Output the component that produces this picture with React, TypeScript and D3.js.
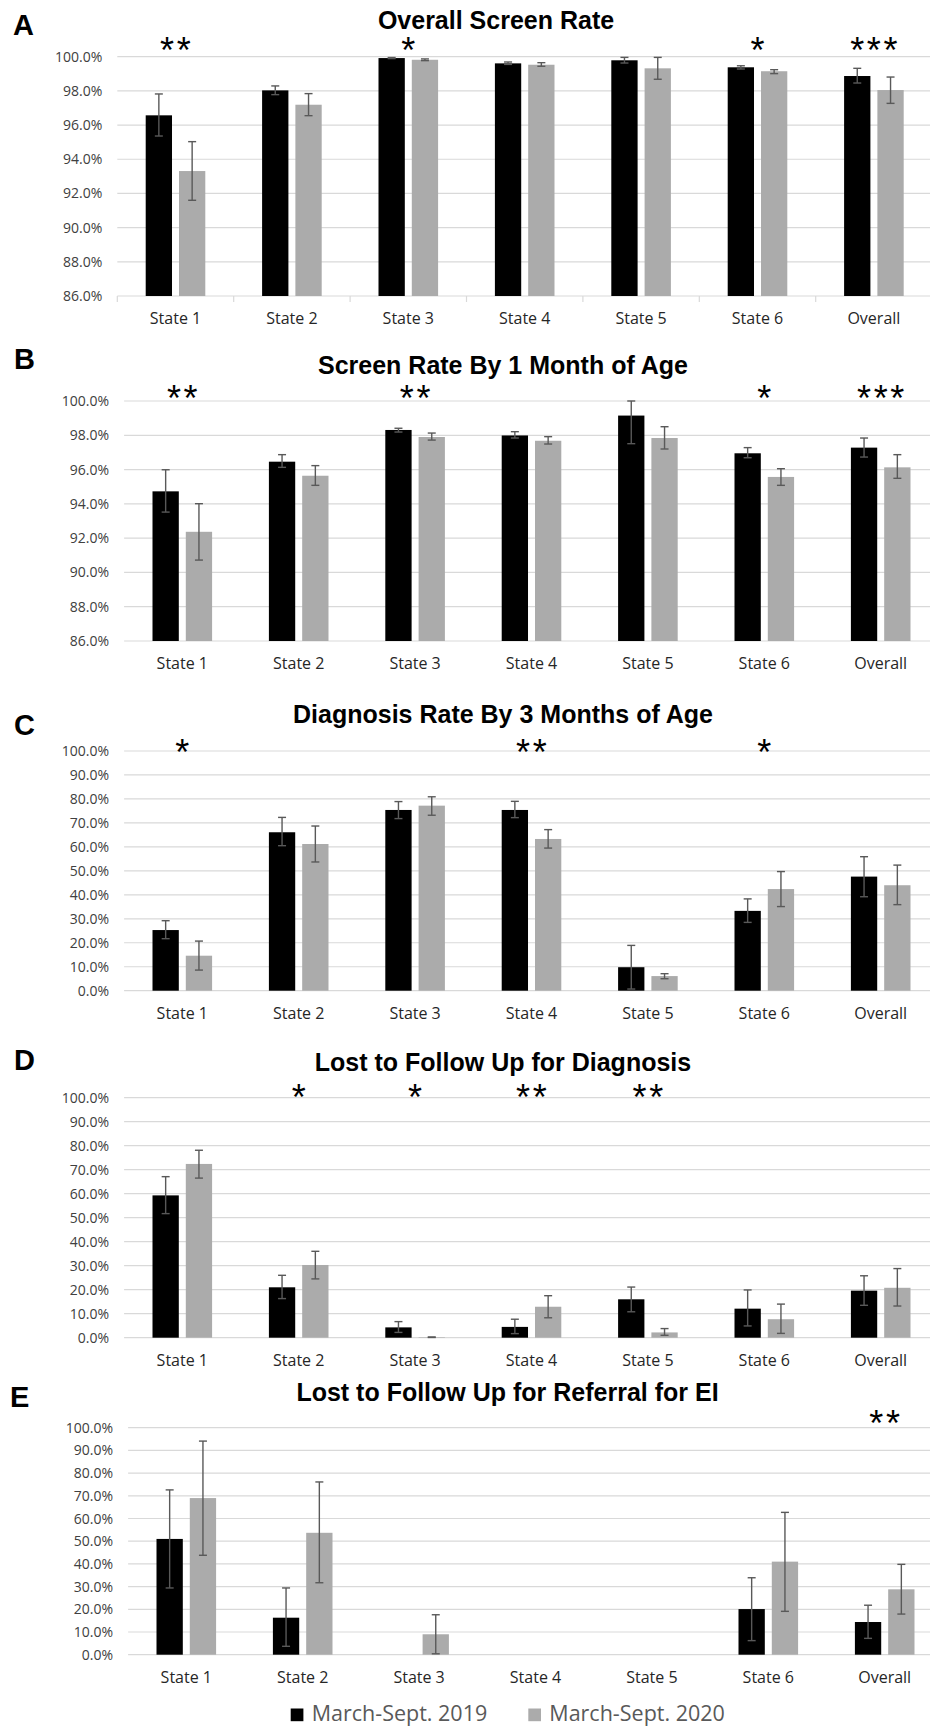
import React, { useEffect, useRef } from 'react';
import * as d3 from 'd3';

// categories and series
const categories = ['State 1', 'State 2', 'State 3', 'State 4', 'State 5', 'State 6', 'Overall'];
const seriesNames = ['March-Sept. 2019', 'March-Sept. 2020'];

// A: overall screen rate (%)
const screen2019 = [96.57, 98.03, 99.92, 99.61, 99.79, 99.38, 98.87];
const screen2019Err = [[95.36, 97.82], [97.78, 98.29], [99.89, 99.95], [99.55, 99.69], [99.63, 99.96], [99.28, 99.47], [98.46, 99.32]];
const screen2020 = [93.31, 97.19, 99.82, 99.53, 99.32, 99.15, 98.05];
const screen2020Err = [[91.6, 95.03], [96.55, 97.84], [99.77, 99.87], [99.44, 99.65], [98.68, 99.96], [99.01, 99.24], [97.27, 98.81]];
const screenStars = ['**', '', '*', '', '', '*', '***'];

// B: screen rate by 1 month of age (%)
const month1_2019 = [94.73, 96.46, 98.31, 97.99, 99.15, 96.95, 97.28];
const month1_2019Err = [[93.52, 95.99], [96.13, 96.87], [98.19, 98.41], [97.84, 98.21], [97.51, 100.0], [96.69, 97.28], [96.73, 97.84]];
const month1_2020 = [92.37, 95.64, 97.9, 97.68, 97.84, 95.57, 96.13];
const month1_2020Err = [[90.72, 94.01], [95.08, 96.23], [97.72, 98.13], [97.49, 97.92], [97.2, 98.5], [95.08, 96.05], [95.49, 96.87]];
const month1Stars = ['**', '', '**', '', '', '*', '***'];

// C: diagnosis rate by 3 months of age (%)
const diag2019 = [25.3, 66.1, 75.4, 75.4, 9.8, 33.3, 47.6];
const diag2019Err = [[21.7, 29.2], [60.5, 72.3], [71.8, 78.9], [72.2, 79.0], [0.7, 18.9], [28.5, 38.3], [39.2, 55.9]];
const diag2020 = [14.6, 61.2, 77.2, 63.3, 6.1, 42.4, 44.0];
const diag2020Err = [[8.6, 20.7], [53.7, 68.7], [73.2, 80.9], [59.5, 67.2], [5.0, 7.1], [35.1, 49.7], [35.9, 52.4]];
const diagStars = ['*', '', '', '**', '', '*', ''];

// D: lost to follow up for diagnosis (%)
const ltfDiag2019 = [59.3, 21.0, 4.3, 4.5, 16.0, 12.1, 19.6];
const ltfDiag2019Err = [[51.7, 67.1], [16.3, 26.0], [2.2, 6.7], [1.7, 7.7], [10.8, 21.1], [4.9, 19.9], [13.5, 25.8]];
const ltfDiag2020 = [72.4, 30.3, 0.2, 12.9, 2.2, 7.7, 20.8];
const ltfDiag2020Err = [[66.5, 78.1], [24.5, 36.0], [0.1, 0.3], [8.3, 17.5], [1.0, 3.8], [1.8, 14.0], [13.2, 28.8]];
const ltfDiagStars = ['', '*', '*', '**', '**', '', ''];

// E: lost to follow up for referral for EI (%)
const ltfEi2019 = [51.0, 16.3, null, null, null, 20.1, 14.4];
const ltfEi2019Err = [[29.4, 72.6], [3.7, 29.4], null, null, null, [6.2, 33.9], [7.2, 21.8]];
const ltfEi2020 = [69.0, 53.7, 9.0, null, null, 41.0, 28.8];
const ltfEi2020Err = [[43.8, 94.1], [31.7, 76.1], [0.4, 17.6], null, null, [19.1, 62.7], [17.9, 39.8]];
const ltfEiStars = ['', '', '', '', '', '', '**'];

const highTicks = [86, 88, 90, 92, 94, 96, 98, 100];
const fullTicks = [0, 10, 20, 30, 40, 50, 60, 70, 80, 90, 100];

const panels = [
  { letter: 'A', title: 'Overall Screen Rate', ticks: highTicks, a: screen2019, aErr: screen2019Err, b: screen2020, bErr: screen2020Err, stars: screenStars,
    top: 56.7, bottom: 296, left: 117.3, titleY: 29.3, titleX: 496, letterY: 35, letterX: 13, starY: 42, tickMarks: true },
  { letter: 'B', title: 'Screen Rate By 1 Month of Age', ticks: highTicks, a: month1_2019, aErr: month1_2019Err, b: month1_2020, bErr: month1_2020Err, stars: month1Stars,
    top: 401, bottom: 641, left: 124.1, titleY: 374.3, titleX: 503, letterY: 369, letterX: 14, starY: 390, tickMarks: false },
  { letter: 'C', title: 'Diagnosis Rate By 3 Months of Age', ticks: fullTicks, a: diag2019, aErr: diag2019Err, b: diag2020, bErr: diag2020Err, stars: diagStars,
    top: 751, bottom: 990.7, left: 124.1, titleY: 723.3, titleX: 503, letterY: 734.5, letterX: 14, starY: 744, tickMarks: false },
  { letter: 'D', title: 'Lost to Follow Up for Diagnosis', ticks: fullTicks, a: ltfDiag2019, aErr: ltfDiag2019Err, b: ltfDiag2020, bErr: ltfDiag2020Err, stars: ltfDiagStars,
    top: 1097.7, bottom: 1337.7, left: 124.1, titleY: 1071, titleX: 503, letterY: 1070, letterX: 14, starY: 1089, tickMarks: false },
  { letter: 'E', title: 'Lost to Follow Up for Referral for EI', ticks: fullTicks, a: ltfEi2019, aErr: ltfEi2019Err, b: ltfEi2020, bErr: ltfEi2020Err, stars: ltfEiStars,
    top: 1427.7, bottom: 1654.7, left: 128.1, titleY: 1400.7, titleX: 507.5, letterY: 1406.7, letterX: 10, starY: 1415, tickMarks: false },
];

const BAND = 116.4;
const SANS = "'Open Sans', 'Noto Sans', sans-serif";
const BOLD = "'Liberation Sans', Arial, sans-serif";
const colors = ['#000000', '#ababab'];

export default function App() {
  const ref = useRef(null);

  useEffect(() => {
    draw();
  }, []);

  function draw() {
    const svg = d3.select(ref.current);
    svg.selectAll('*').remove();

    panels.forEach((p) => {
      const g = svg.append('g');
      const right = p.left + BAND * categories.length;
      const x = d3.scaleBand().domain(categories).range([p.left, right]).padding(0);
      const y = d3.scaleLinear().domain([p.ticks[0], p.ticks[p.ticks.length - 1]]).range([p.bottom, p.top]);
      const bw = x.bandwidth();
      const barW = bw * 0.226;
      const gap = bw * 0.06;

      // gridlines
      g.selectAll('.grid')
        .data(p.ticks)
        .enter()
        .append('line')
        .attr('x1', p.left)
        .attr('x2', right)
        .attr('y1', (d) => y(d))
        .attr('y2', (d) => y(d))
        .attr('stroke', '#d9d9d9')
        .attr('stroke-width', 1.2);

      // y tick labels
      g.selectAll('.ylab')
        .data(p.ticks)
        .enter()
        .append('text')
        .attr('x', p.left - 15)
        .attr('y', (d) => y(d) + 5)
        .attr('text-anchor', 'end')
        .attr('font-family', SANS)
        .attr('font-size', 14)
        .attr('fill', '#404040')
        .text((d) => d3.format('.1f')(d) + '%');

      if (p.tickMarks) {
        const edges = d3.range(categories.length + 1).map((i) => p.left + i * bw);
        g.selectAll('.tick')
          .data(edges)
          .enter()
          .append('line')
          .attr('x1', (d) => d)
          .attr('x2', (d) => d)
          .attr('y1', p.bottom)
          .attr('y2', p.bottom + 6)
          .attr('stroke', '#d9d9d9')
          .attr('stroke-width', 1.2);
      }

      // category labels
      g.selectAll('.xlab')
        .data(categories)
        .enter()
        .append('text')
        .attr('x', (d) => x(d) + bw / 2)
        .attr('y', p.bottom + 28)
        .attr('text-anchor', 'middle')
        .attr('font-family', SANS)
        .attr('font-size', 16)
        .attr('fill', '#262626')
        .text((d) => d);

      // bars + error bars
      [p.a, p.b].forEach((vals, si) => {
        const errs = si === 0 ? p.aErr : p.bErr;
        const xb = (c) => x(c) + bw / 2 + (si === 0 ? -gap / 2 - barW : gap / 2);
        const items = categories.map((c, i) => ({ c, v: vals[i], e: errs[i] })).filter((d) => d.v !== null);
        g.selectAll('.bar' + si)
          .data(items)
          .enter()
          .append('rect')
          .attr('x', (d) => xb(d.c))
          .attr('y', (d) => y(d.v))
          .attr('width', barW)
          .attr('height', (d) => p.bottom - y(d.v))
          .attr('fill', colors[si]);
        const eg = g.selectAll('.err' + si)
          .data(items.filter((d) => d.e))
          .enter()
          .append('g')
          .attr('stroke', '#595959')
          .attr('stroke-width', 1.4);
        eg.append('line')
          .attr('x1', (d) => xb(d.c) + barW / 2)
          .attr('x2', (d) => xb(d.c) + barW / 2)
          .attr('y1', (d) => y(d.e[0]))
          .attr('y2', (d) => y(d.e[1]));
        [0, 1].forEach((k) => {
          eg.append('line')
            .attr('x1', (d) => xb(d.c) + barW / 2 - 4)
            .attr('x2', (d) => xb(d.c) + barW / 2 + 4)
            .attr('y1', (d) => y(d.e[k]))
            .attr('y2', (d) => y(d.e[k]));
        });
      });

      // significance stars
      g.selectAll('.star')
        .data(categories.map((c, i) => ({ c, s: p.stars[i] })).filter((d) => d.s))
        .enter()
        .append('text')
        .attr('x', (d) => x(d.c) + bw / 2 + 1.3)
        .attr('y', p.starY + 20.7)
        .attr('text-anchor', 'middle')
        .attr('font-family', BOLD)
        .attr('font-size', 36)
        .attr('letter-spacing', 2.7)
        .attr('fill', '#000')
        .text((d) => d.s);

      // title and panel letter
      g.append('text')
        .attr('x', p.titleX)
        .attr('y', p.titleY)
        .attr('text-anchor', 'middle')
        .attr('font-family', BOLD)
        .attr('font-weight', 'bold')
        .attr('font-size', 25)
        .attr('fill', '#000')
        .text(p.title);
      g.append('text')
        .attr('x', p.letterX)
        .attr('y', p.letterY)
        .attr('font-family', BOLD)
        .attr('font-weight', 'bold')
        .attr('font-size', 29)
        .attr('fill', '#000')
        .text(p.letter);
    });

    // legend
    const legendX = [290.7, 528.3];
    const lg = svg.append('g');
    seriesNames.forEach((name, i) => {
      lg.append('rect')
        .attr('x', legendX[i])
        .attr('y', 1708.5)
        .attr('width', 12.7)
        .attr('height', 12.7)
        .attr('fill', colors[i]);
      lg.append('text')
        .attr('x', legendX[i] + 21)
        .attr('y', 1721)
        .attr('font-family', SANS)
        .attr('font-size', 21.5)
        .attr('fill', '#595959')
        .text(name);
    });
  }

  return (
    <div className='wrap'>
      <style>{'body{margin:0;background:#fff}'}</style>
      <svg ref={ref} width={930} height={1726} style={{ display: 'block' }}></svg>
    </div>
  );
}
